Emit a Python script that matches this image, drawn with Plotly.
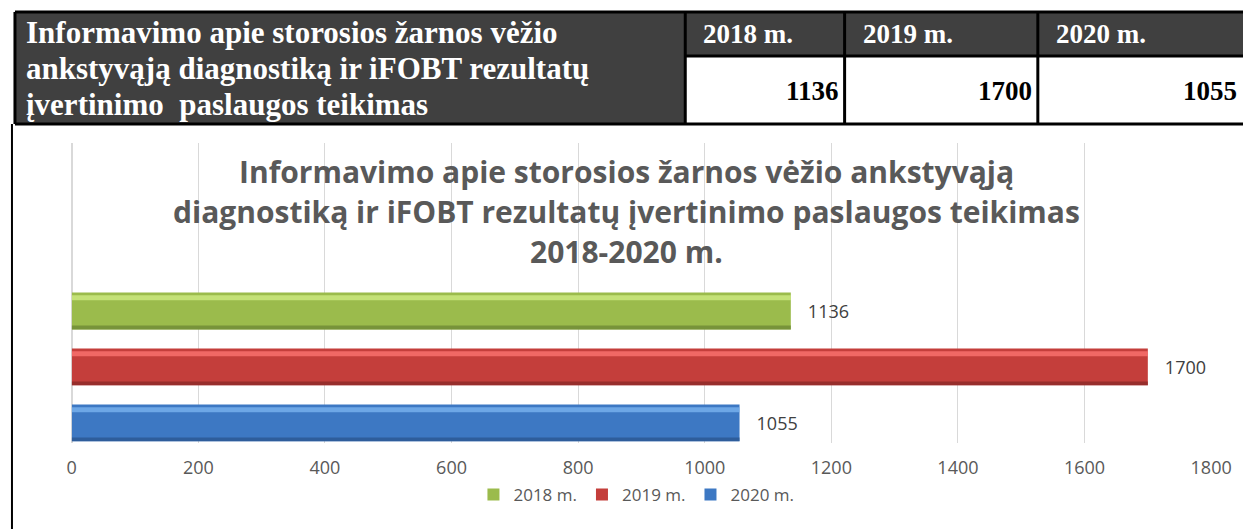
import plotly.graph_objects as go

# target picture size
PAGE_W, PAGE_H = 1243, 529
# the photographed page comes out about 1.7% narrower than laid out, so lay the figure out wider
W, H = 1264, 529

# ---- data ----
series_names = ["2018 m.", "2019 m.", "2020 m."]
series_values = [1136, 1700, 1055]
table_title_lines = ["Informavimo apie storosios žarnos vėžio",
                     "ankstyvąją diagnostiką ir iFOBT rezultatų",
                     "įvertinimo  paslaugos teikimas"]
chart_title_lines = ["Informavimo apie storosios žarnos vėžio ankstyvąją",
                     "diagnostiką ir iFOBT rezultatų įvertinimo paslaugos teikimas",
                     "2018-2020 m."]
x_ticks = [0, 200, 400, 600, 800, 1000, 1200, 1400, 1600, 1800]

mid_colors = ["#9BBB4C", "#C43E3B", "#3D78C3"]
top_colors = ["#D2EE86", "#FF7774", "#7DB7F2"]
bot_colors = ["#6E8936", "#8C2B29", "#2B5691"]


def px(x):
    """target picture x -> paper fraction"""
    return min(max(x / PAGE_W, 0.0), 1.0)


def py(y):
    """target picture y -> paper fraction"""
    return min(max(1 - y / PAGE_H, 0.0), 1.0)


fig = go.Figure()

BW = 0.66
for name, val, cm, ct, cb in zip(series_names, series_values, mid_colors, top_colors, bot_colors):
    fig.add_trace(go.Bar(
        y=[name], x=[val], orientation="h", name=name,
        marker=dict(color=cm, line=dict(width=0)),
        width=BW, offset=-BW / 2,
        text=[val], texttemplate="   %{x}", textposition="outside",
        textfont=dict(family="Open Sans, sans-serif", size=18, color="#404040"),
        cliponaxis=False,
    ))
    # light top strip
    fig.add_trace(go.Bar(
        y=[name], x=[val], orientation="h", showlegend=False, hoverinfo="skip",
        marker=dict(color=ct, opacity=0.75, line=dict(width=0)),
        width=0.09, offset=BW / 2 - 0.14,
    ))
    # dark bottom strip
    fig.add_trace(go.Bar(
        y=[name], x=[val], orientation="h", showlegend=False, hoverinfo="skip",
        marker=dict(color=cb, opacity=0.8, line=dict(width=0)),
        width=0.07, offset=-BW / 2,
    ))

shapes = []
LINE = dict(color="black", width=3)


def hline(x0, x1, y, line=LINE):
    shapes.append(dict(type="line", xref="paper", yref="paper",
                       x0=px(x0), x1=px(x1), y0=py(y), y1=py(y), line=line))


def vline(x, y0, y1, line=LINE):
    shapes.append(dict(type="line", xref="paper", yref="paper",
                       x0=px(x), x1=px(x), y0=py(y0), y1=py(y1), line=line))


# table fills
cols = [(683, 843), (843, 1037), (1037, PAGE_W)]
shapes.append(dict(type="rect", xref="paper", yref="paper", layer="below",
                   x0=px(10), x1=px(683), y0=py(124), y1=py(12),
                   fillcolor="#404040", line=dict(width=0)))
for (a, b) in cols:
    shapes.append(dict(type="rect", xref="paper", yref="paper", layer="below",
                       x0=px(a), x1=px(b), y0=py(56), y1=py(12),
                       fillcolor="#404040", line=dict(width=0)))
# table borders
hline(10, PAGE_W, 12)
hline(683, PAGE_W, 56)
hline(10, PAGE_W, 124)
vline(10, 12, 124)
for (a, b) in cols:
    vline(a, 12, 124)
# chart frame (left edge)
vline(7, 124, PAGE_H, line=dict(color="black", width=2))

annotations = []
serif = "Liberation Serif, Times New Roman, serif"
for i, line in enumerate(table_title_lines):
    annotations.append(dict(xref="paper", yref="paper", x=px(19), y=py(32 + i * 36),
                            xanchor="left", yanchor="middle", showarrow=False,
                            text="<b>%s</b>" % line,
                            font=dict(family=serif, size=31, color="white")))
for (a, b), name, val in zip(cols, series_names, series_values):
    annotations.append(dict(xref="paper", yref="paper", x=px(a + 16), y=py(34),
                            xanchor="left", yanchor="middle", showarrow=False,
                            text="<b>%s</b>" % name,
                            font=dict(family=serif, size=27, color="white")))
    right = min(b, PAGE_W) - 4
    annotations.append(dict(xref="paper", yref="paper", x=px(right), y=py(91),
                            xanchor="right", yanchor="middle", showarrow=False,
                            text="<b>%s</b>" % val,
                            font=dict(family=serif, size=27, color="black")))
for i, line in enumerate(chart_title_lines):
    annotations.append(dict(xref="paper", yref="paper", x=px(624), y=py(171 + i * 40),
                            xanchor="center", yanchor="middle", showarrow=False,
                            text="<b>%s</b>" % line,
                            font=dict(family="Open Sans, sans-serif", size=30, color="#595959")))

fig.update_layout(
    width=W, height=H, autosize=False,
    margin=dict(l=0, r=0, t=0, b=0),
    paper_bgcolor="white", plot_bgcolor="white",
    barmode="overlay",
    showlegend=True,
    legend=dict(orientation="h", x=px(634), xanchor="center", y=py(495), yanchor="middle",
                font=dict(family="Open Sans, sans-serif", size=17, color="#595959"),
                itemwidth=30, traceorder="normal"),
    xaxis=dict(domain=[px(67), px(1211)], range=[0, 1800], tickvals=x_ticks,
               showgrid=True, gridcolor="#D9D9D9", gridwidth=1,
               zeroline=True, zerolinecolor="#D9D9D9", showline=False,
               ticks="", ticklabelstandoff=12,
               tickfont=dict(family="Open Sans, sans-serif", size=18, color="#595959")),
    yaxis=dict(domain=[py(443), py(143)], type="category",
               categoryorder="array", categoryarray=list(reversed(series_names)),
               range=[-0.36, 5.0], showticklabels=False, showgrid=False,
               zeroline=False, showline=False, ticks=""),
    shapes=shapes,
    annotations=annotations,
)

fig.write_html("out.html",
               config={"responsive": False, "displayModeBar": False},
               post_script="document.body.style.margin='0';")
